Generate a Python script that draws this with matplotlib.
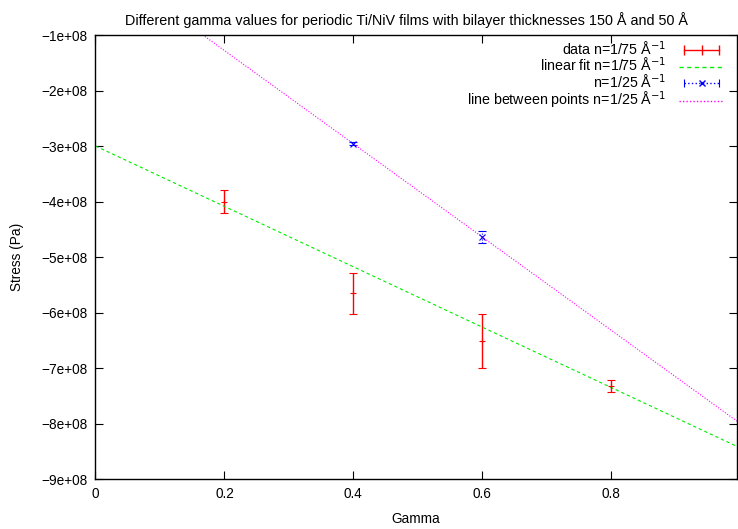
import numpy as np
import matplotlib.pyplot as plt
from matplotlib.ticker import FuncFormatter
from matplotlib.lines import Line2D
from matplotlib.legend_handler import HandlerLine2D, HandlerTuple

plt.rcParams['font.family'] = ['Liberation Sans', 'DejaVu Sans']

# n=1/75 series (with error bars)
gamma_a = [0.2, 0.4, 0.6, 0.8]
stress_a = [-4.00e8, -5.65e8, -6.51e8, -7.33e8]
err_a = [0.20e8, 0.37e8, 0.49e8, 0.11e8]

# linear fit of n=1/75
fit_slope = -5.44e8
fit_intercept = -3.0e8

# n=1/25 series
gamma_b = [0.4, 0.6]
stress_b = [-2.96e8, -4.64e8]
err_b = [0.03e8, 0.11e8]

xticks = [0, 0.2, 0.4, 0.6, 0.8]
yticks = [-9e8, -8e8, -7e8, -6e8, -5e8, -4e8, -3e8, -2e8, -1e8]

RED, GREEN, BLUE, MAG = '#ff0000', '#00ee00', '#0000ff', '#ff00ff'

fig = plt.figure(figsize=(7.38, 5.29), dpi=100)
ax = fig.add_axes([0.1294, 0.0945, 0.8692, 0.8393])

xs = np.array([0.0, 0.995])

ax.errorbar(gamma_a, stress_a, yerr=err_a, fmt='+', color=RED, ms=5,
            mew=0.8, elinewidth=1.0, capsize=3, capthick=1.0)
ax.plot(xs, fit_intercept + fit_slope * xs, color=GREEN, lw=0.8, dashes=(3, 2.5))
eb = ax.errorbar(gamma_b, stress_b, yerr=err_b, fmt='x', color=BLUE, ms=5,
                 mew=0.8, elinewidth=0.8, capsize=3, capthick=0.8)
eb[2][0].set_linestyle(':')

slope_b = (stress_b[1] - stress_b[0]) / (gamma_b[1] - gamma_b[0])
ax.plot(xs, stress_b[0] + slope_b * (xs - gamma_b[0]), color=MAG, lw=0.8,
        linestyle=(0, (1, 1.5)))

# gnuplot-like legend samples
h_data = Line2D([], [], color=RED, lw=1.0, marker='|', ms=7, mew=1.0)
h_fit = Line2D([], [], color=GREEN, lw=1.0, dashes=(3, 2.5))
h_b_line = Line2D([], [], color=BLUE, lw=1.0, linestyle=':', marker='|', ms=6, mew=0.8)
h_b_mark = Line2D([], [], color=BLUE, linestyle='none', marker='x', ms=5, mew=1.0)
h_mag = Line2D([], [], color=MAG, lw=1.0, linestyle=(0, (1, 1.5)))

handles = [h_data, h_fit, (h_b_line, h_b_mark), h_mag]
labels = ['data n=1/75 Å$^{-1}$', 'linear fit n=1/75 Å$^{-1}$',
          'n=1/25 Å$^{-1}$', 'line between points n=1/25 Å$^{-1}$']

ax.set_xlim(0, 0.995)
ax.set_ylim(-9e8, -1e8)
ax.set_xticks(xticks)
ax.set_yticks(yticks)
ax.xaxis.set_major_formatter(FuncFormatter(lambda v, p: '%g' % v))
ax.yaxis.set_major_formatter(FuncFormatter(lambda v, p: ('%.0e' % v).replace('-', '\u2212', 1)))
ax.tick_params(direction='in', length=6, width=0.8, labelsize=9.8, pad=6,
               top=True, right=True)
for s in ax.spines.values():
    s.set_linewidth(1.0)

ax.set_xlabel('Gamma', fontsize=9.8, labelpad=8)
ax.set_ylabel('Stress (Pa)', fontsize=9.8, labelpad=12)
ax.set_title('Different gamma values for periodic Ti/NiV films with bilayer thicknesses 150 Å and 50 Å',
             fontsize=10.4, pad=7, x=0.485)

leg = ax.legend(handles, labels, loc='upper right', bbox_to_anchor=(0.995, 1.012),
                frameon=False, markerfirst=False, fontsize=10.3, handlelength=3.1,
                labelspacing=-0.1, borderpad=0.2, handletextpad=0.9,
                handler_map={h_data: HandlerLine2D(numpoints=3),
                             h_b_line: HandlerLine2D(numpoints=2),
                             h_b_mark: HandlerLine2D(numpoints=1),
                             tuple: HandlerTuple(ndivide=1)})
for t in leg.get_texts():
    t.set_ha('right')

fig.savefig('out.png', dpi=100)
